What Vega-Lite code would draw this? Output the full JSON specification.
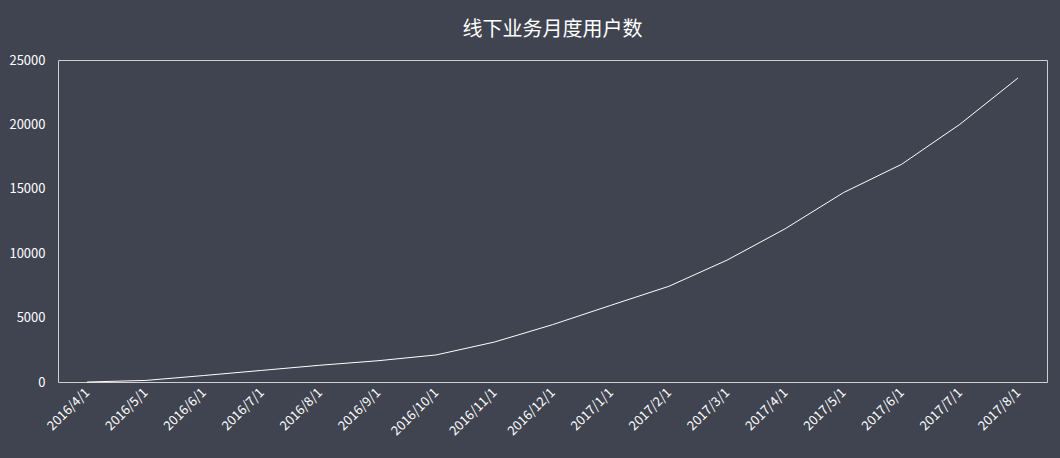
{
  "$schema": "https://vega.github.io/schema/vega-lite/v6.json",
  "autosize": {"type": "none"},
  "width": 989,
  "height": 322,
  "padding": {"left": 58, "top": 60, "right": 13, "bottom": 76},
  "background": "#404450",
  "title": {
    "text": "线下业务月度用户数",
    "font": "Noto Sans CJK SC",
    "fontSize": 20,
    "fontWeight": "normal",
    "color": "#ffffff",
    "anchor": "middle",
    "offset": 14
  },
  "config": {
    "view": {"stroke": "#cfcfcf", "strokeWidth": 1},
    "axis": {
      "labelFont": "Noto Sans CJK SC",
      "labelColor": "#ffffff",
      "labelFontSize": 13,
      "grid": false,
      "domain": false,
      "ticks": false,
      "title": null
    }
  },
  "data": {
    "values": [
      {"month": "2016/4/1", "users": 0},
      {"month": "2016/5/1", "users": 120},
      {"month": "2016/6/1", "users": 500},
      {"month": "2016/7/1", "users": 900},
      {"month": "2016/8/1", "users": 1300},
      {"month": "2016/9/1", "users": 1650},
      {"month": "2016/10/1", "users": 2100},
      {"month": "2016/11/1", "users": 3100},
      {"month": "2016/12/1", "users": 4450},
      {"month": "2017/1/1", "users": 5950},
      {"month": "2017/2/1", "users": 7430},
      {"month": "2017/3/1", "users": 9460},
      {"month": "2017/4/1", "users": 11900},
      {"month": "2017/5/1", "users": 14700},
      {"month": "2017/6/1", "users": 16900},
      {"month": "2017/7/1", "users": 20000},
      {"month": "2017/8/1", "users": 23600}
    ]
  },
  "mark": {"type": "line", "color": "#ffffff", "strokeWidth": 1},
  "encoding": {
    "x": {
      "field": "month",
      "type": "ordinal",
      "sort": null,
      "scale": {"type": "point", "padding": 0.5},
      "axis": {"labelAngle": -45, "labelAlign": "right", "labelBaseline": "middle", "labelPadding": 8}
    },
    "y": {
      "field": "users",
      "type": "quantitative",
      "scale": {"domain": [0, 25000], "nice": false},
      "axis": {"values": [0, 5000, 10000, 15000, 20000, 25000], "format": "d", "labelPadding": 13}
    }
  }
}
